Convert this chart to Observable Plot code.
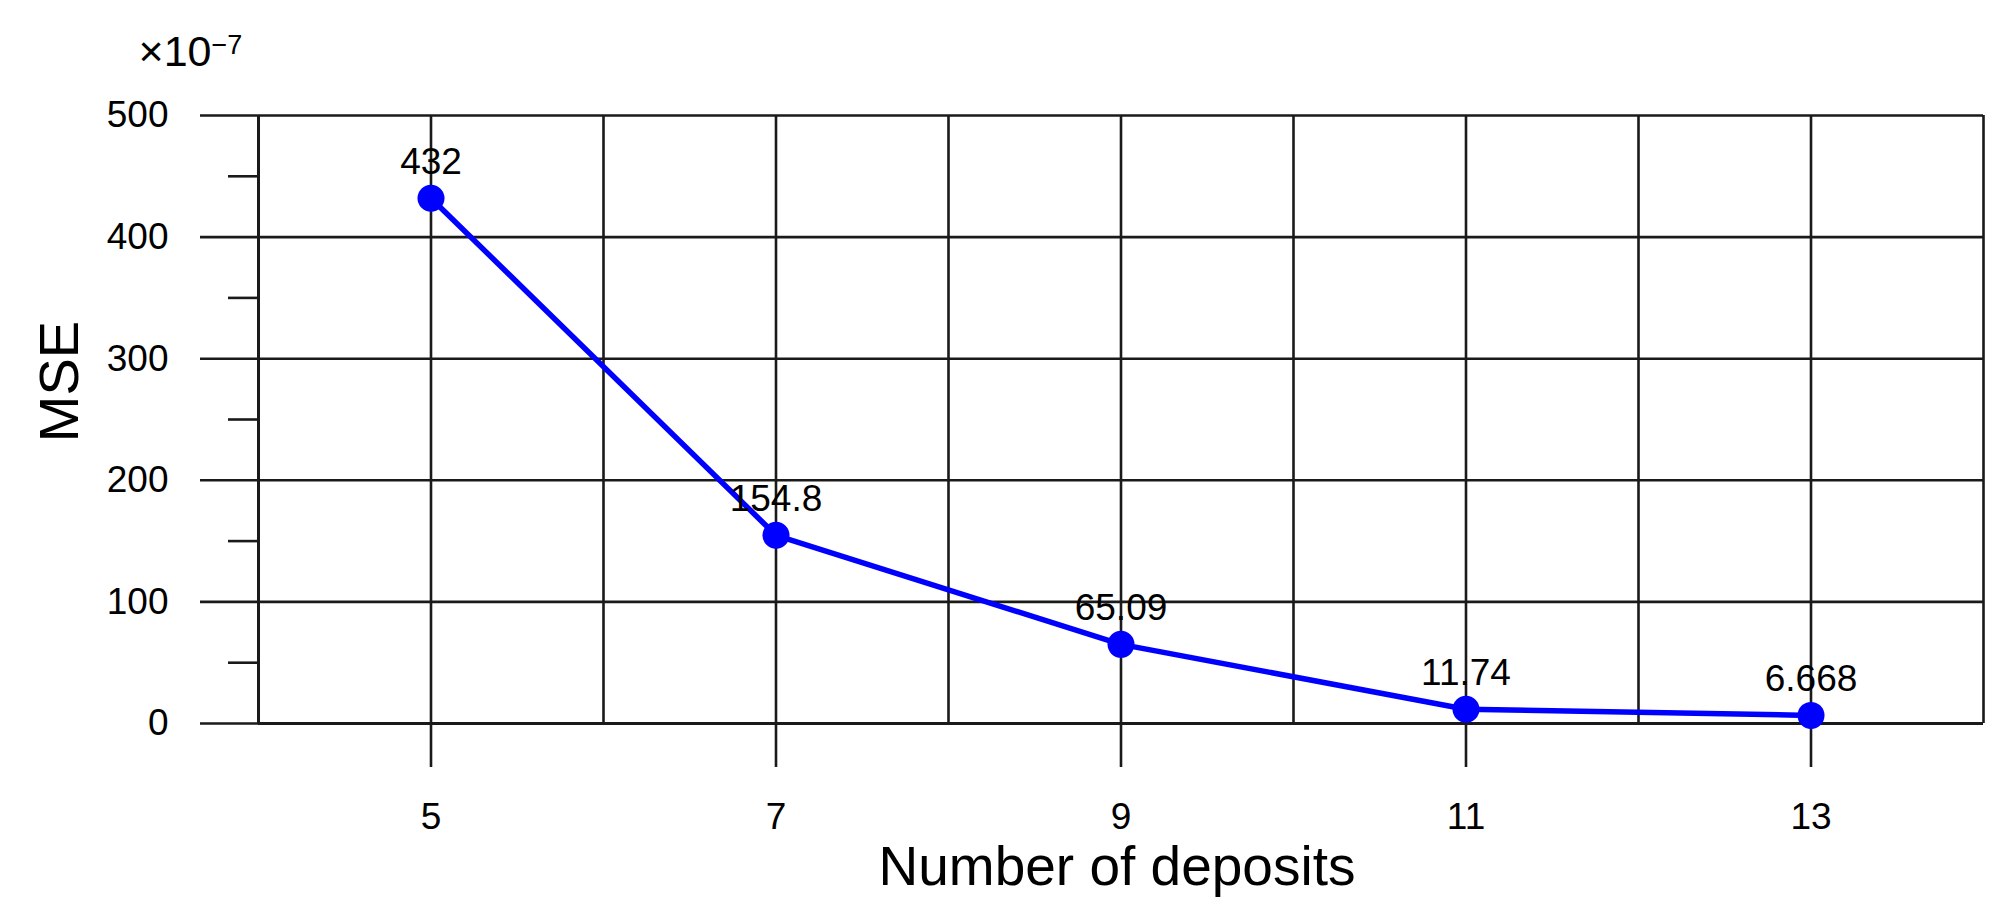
<!DOCTYPE html>
<html>
<head>
<meta charset="utf-8">
<script src="https://cdn.jsdelivr.net/npm/d3@7"></script>
<script src="https://cdn.jsdelivr.net/npm/@observablehq/plot@0.6"></script>
<style>
  html, body { margin: 0; padding: 0; background: #fff; }
  #chart svg { font-family: "Liberation Sans", Arial, Helvetica, sans-serif; }
</style>
</head>
<body>
<div id="chart"></div>
<script>
// Data
const deposits = [5, 7, 9, 11, 13];
const mse = [432, 154.8, 65.09, 11.74, 6.668];
const mseLabels = ["432", "154.8", "65.09", "11.74", "6.668"];
const yMajorTicks = [0, 100, 200, 300, 400, 500];
const yMinorTicks = [50, 150, 250, 350, 450];
const xTickLabels = [5, 7, 9, 11, 13];
const xGridLines = [4, 5, 6, 7, 8, 9, 10, 11, 12, 13, 14];
const yLabel = "MSE";
const xLabel = "Number of deposits";
const scaleFactor = "×10";
const scaleExp = "−7";

const rows = deposits.map((d, i) => ({x: d, y: mse[i], label: mseLabels[i]}));

const ink = "#1a1a1a";
const blue = "#0000ff";

const chart = Plot.plot({
  width: 2008,
  height: 913,
  marginLeft: 258,
  marginRight: 25,
  marginTop: 115,
  marginBottom: 190,
  style: {background: "#fff", fontFamily: "Liberation Sans, Arial, sans-serif", color: "#000"},
  x: {domain: [4, 14]},
  y: {domain: [0, 500]},
  marks: [
    Plot.gridX(xGridLines, {stroke: ink, strokeOpacity: 1, strokeWidth: 2.6}),
    Plot.gridY(yMajorTicks, {stroke: ink, strokeOpacity: 1, strokeWidth: 2.6}),
    Plot.ruleX([4], {stroke: ink, strokeWidth: 3}),
    Plot.ruleY([0], {stroke: ink, strokeWidth: 3}),
    Plot.axisY(yMajorTicks, {anchor: "left", tickSize: 58, tickPadding: 32, fontSize: 37, stroke: ink, strokeWidth: 2.6, fill: "#000", label: null, tickFormat: d3.format("d")}),
    Plot.axisY(yMinorTicks, {anchor: "left", tickSize: 30, tickFormat: () => "", stroke: ink, strokeWidth: 2.6, label: null}),
    Plot.axisX(xTickLabels, {anchor: "bottom", tickSize: 44, tickPadding: 35, fontSize: 37, stroke: ink, strokeWidth: 2.6, fill: "#000", label: null, tickFormat: d3.format("d")}),
    Plot.line(rows, {x: "x", y: "y", stroke: blue, strokeWidth: 5.5}),
    Plot.dot(rows, {x: "x", y: "y", r: 13.5, fill: blue, stroke: "none"}),
    Plot.text(rows, {x: "x", y: "y", text: "label", dy: -24, lineAnchor: "bottom", textAnchor: "middle", fontSize: 37, fill: "#000"}),
    Plot.text([yLabel], {frameAnchor: "left", dx: -198, dy: -38, rotate: -90, textAnchor: "middle", lineAnchor: "middle", fontSize: 56, fill: "#000"}),
    Plot.text([xLabel], {frameAnchor: "bottom", dx: -4, dy: 122, textAnchor: "middle", lineAnchor: "top", fontSize: 55, fill: "#000"}),
    Plot.text([scaleFactor], {frameAnchor: "top-left", dx: -47, dy: -50, textAnchor: "end", lineAnchor: "bottom", fontSize: 43, fill: "#000"}),
    Plot.text([scaleExp], {frameAnchor: "top-left", dx: -47, dy: -62, textAnchor: "start", lineAnchor: "bottom", fontSize: 27, fill: "#000"})
  ]
});

document.getElementById("chart").appendChild(chart);
</script>
</body>
</html>
